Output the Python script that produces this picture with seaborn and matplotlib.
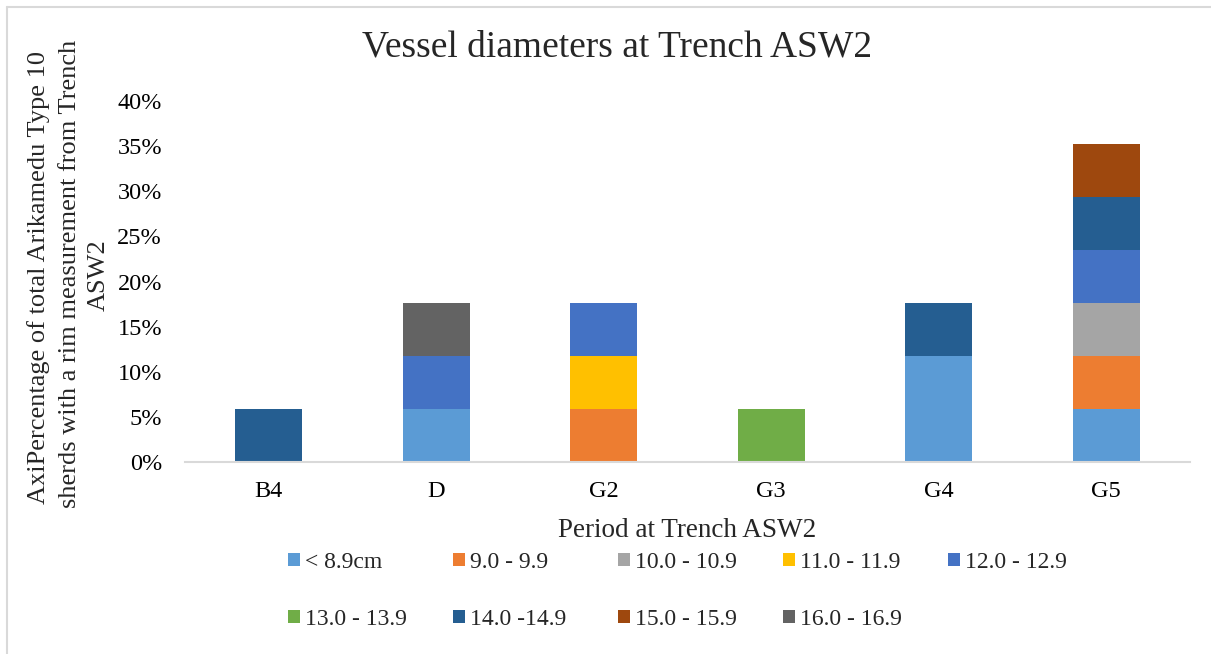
import matplotlib
matplotlib.use("Agg")
import matplotlib.pyplot as plt
from matplotlib.lines import Line2D
from matplotlib.patches import Patch
from matplotlib.ticker import PercentFormatter
import seaborn as sns
import pandas as pd

# Periods (x categories)
periods = ["B4", "D", "G2", "G3", "G4", "G5"]

# Diameter classes, in stacking order
classes = ["< 8.9cm", "9.0 - 9.9", "10.0 - 10.9", "11.0 - 11.9", "12.0 - 12.9",
           "13.0 - 13.9", "14.0 -14.9", "15.0 - 15.9", "16.0 - 16.9"]

colors = ["#5B9BD5", "#ED7D31", "#A5A5A5", "#FFC000", "#4472C4",
          "#70AD47", "#255E91", "#9E480E", "#636363"]

# Percentage of sherds per period, one list per diameter class
lt_8_9 = [0.0, 5.88, 0.0, 0.0, 11.76, 5.88]
d_9_0 = [0.0, 0.0, 5.88, 0.0, 0.0, 5.88]
d_10_0 = [0.0, 0.0, 0.0, 0.0, 0.0, 5.88]
d_11_0 = [0.0, 0.0, 5.88, 0.0, 0.0, 0.0]
d_12_0 = [0.0, 5.88, 5.88, 0.0, 0.0, 5.88]
d_13_0 = [0.0, 0.0, 0.0, 5.88, 0.0, 0.0]
d_14_0 = [5.88, 0.0, 0.0, 0.0, 5.88, 5.88]
d_15_0 = [0.0, 0.0, 0.0, 0.0, 0.0, 5.88]
d_16_0 = [0.0, 5.88, 0.0, 0.0, 0.0, 0.0]

series = [lt_8_9, d_9_0, d_10_0, d_11_0, d_12_0, d_13_0, d_14_0, d_15_0, d_16_0]

ylabel_lines = ["AxiPercentage of total Arikamedu Type 10",
                "sherds with a rim measurement from Trench",
                "ASW2"]

sns.set_theme(style="white")
plt.rcParams["font.family"] = ["Liberation Serif", "DejaVu Serif"]

W, H = 1211, 654
fig = plt.figure(figsize=(W / 100, H / 100), dpi=100)
ax = fig.add_axes([185 / W, 1 - 462 / H, 1005 / W, 361 / H])

bottom = [0.0] * len(periods)
for name, vals, col in zip(classes, series, colors):
    df = pd.DataFrame({"period": periods, "pct": [v / 100 for v in vals]})
    sns.barplot(data=df, x="period", y="pct", order=periods, bottom=bottom,
                color=col, width=0.4, linewidth=0, saturation=1,
                errorbar=None, ax=ax)
    bottom = [b + v / 100 for b, v in zip(bottom, vals)]

ax.set_ylim(0, 0.40)
ax.set_xlim(-0.5, len(periods) - 0.5)
ax.set_yticks([i * 0.05 for i in range(9)])
ax.yaxis.set_major_formatter(PercentFormatter(1.0, decimals=0))
ax.tick_params(axis="both", labelsize=17.5, colors="#000000", length=0)
ax.tick_params(axis="y", pad=16.5)
ax.tick_params(axis="x", pad=14)
for s in ["top", "right", "left"]:
    ax.spines[s].set_visible(False)
ax.spines["bottom"].set_color("#D9D9D9")
ax.spines["bottom"].set_linewidth(1.5)

ax.set_ylabel("")
ax.set_xlabel("Period at Trench ASW2", fontsize=19.5)
ax.xaxis.set_label_coords(0.5, (462 - 518) / 361)

# Rotated y-axis title, one centred line at a time
for line, (px, py) in zip(ylabel_lines, [(39, 277), (70, 274), (99, 275)]):
    fig.text(px / W, 1 - py / H, line, rotation=90, ha="center", va="center",
             fontsize=19)

fig.text(617 / W, 1 - 47 / H, "Vessel diameters at Trench ASW2", ha="center",
         va="center", fontsize=27)

# Legend laid out in fixed-width columns, filled row by row
handles = [Patch(facecolor=c, edgecolor="none") for c in colors]
ncols = 5
col_x = [288, 453, 618, 783, 948]
for c in range(ncols):
    idx = [i for i in range(len(classes)) if i % ncols == c]
    fig.legend([handles[i] for i in idx], [classes[i] for i in idx],
               loc="upper left", bbox_to_anchor=(col_x[c] / W, 1 - 552 / H),
               ncol=1, frameon=False, fontsize=17, handlelength=0.5,
               handleheight=0.5, handletextpad=0.2, labelspacing=1.52,
               borderpad=0, borderaxespad=0)

# Chart area outline along the top and left edges
fig.add_artist(Line2D([7 / W, 1.0], [1 - 7 / H, 1 - 7 / H],
                      transform=fig.transFigure, color="#D9D9D9", lw=1.5))
fig.add_artist(Line2D([7 / W, 7 / W], [0.0, 1 - 7 / H],
                      transform=fig.transFigure, color="#D9D9D9", lw=1.5))

fig.savefig("out.png", dpi=100, facecolor="white")
